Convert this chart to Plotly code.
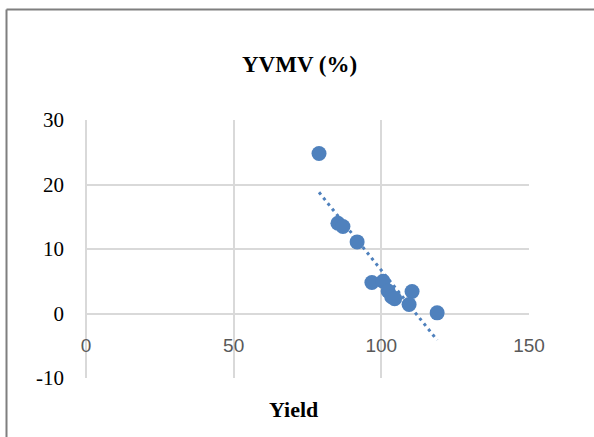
import numpy as np
import plotly.graph_objects as go

# Data
yield_vals = [78.9, 85.3, 87.0, 91.8, 96.8, 100.6, 102.3, 103.5, 104.5, 110.4, 109.4, 118.9]
yvmv_vals = [24.8, 14.0, 13.5, 11.1, 4.8, 5.0, 3.5, 2.6, 2.3, 3.4, 1.4, 0.1]
x_ticks = [0, 50, 100, 150]
y_ticks = [-10, 0, 10, 20, 30]
y_tick_text = ["-10", "0", "10", "20", "30"]
title_text = "YVMV (%)"
x_title = "Yield"

BLUE = "#4F81BD"
GRID = "#D9D9D9"

# linear trendline from data
slope, intercept = np.polyfit(yield_vals, yvmv_vals, 1)
tx = np.array([min(yield_vals), max(yield_vals)])
ty = slope * tx + intercept

fig = go.Figure()
fig.add_trace(go.Scatter(x=list(tx), y=list(ty), mode="lines",
                         line=dict(color=BLUE, width=3, dash="3px,4px"),
                         showlegend=False, hoverinfo="skip"))
fig.add_trace(go.Scatter(x=yield_vals, y=yvmv_vals, mode="markers",
                         marker=dict(color=BLUE, size=15, line=dict(width=0)),
                         showlegend=False))
# invisible trace for the crossing x-axis
fig.add_trace(go.Scatter(x=[x_ticks[0], x_ticks[-1]], y=[0, 0], xaxis="x2", mode="markers",
                         marker=dict(opacity=0), showlegend=False, hoverinfo="skip"))

L, R, T, B = 86, 65, 120, 59
W, H = 594, 437
pw, ph = W - L - R, H - T - B

fig.update_layout(
    width=W, height=H,
    margin=dict(l=L, r=R, t=T, b=B),
    paper_bgcolor="white", plot_bgcolor="white",
    xaxis=dict(range=[x_ticks[0], x_ticks[-1]], tickvals=x_ticks, showticklabels=False,
               showgrid=True, gridcolor=GRID, gridwidth=1.5, zeroline=True,
               zerolinecolor=GRID, zerolinewidth=1.5, showline=False, fixedrange=True),
    xaxis2=dict(range=[x_ticks[0], x_ticks[-1]], tickvals=x_ticks, overlaying="x",
                anchor="free", position=(0 - y_ticks[0]) / (y_ticks[-1] - y_ticks[0]),
                side="bottom", showgrid=False, zeroline=False, showline=False,
                ticks="", ticklabelstandoff=18,
                tickfont=dict(family="Liberation Sans", size=19, color="#595959")),
    yaxis=dict(range=[y_ticks[0], y_ticks[-1]], tickvals=y_ticks, ticktext=y_tick_text,
               showgrid=True, gridcolor=GRID, gridwidth=1.5, zeroline=True,
               zerolinecolor=GRID, zerolinewidth=1.5, showline=False,
               ticks="", ticklabelstandoff=21,
               tickfont=dict(family="Liberation Serif", size=21, color="black")),
    annotations=[
        dict(text="<b>" + title_text + "</b>", xref="paper", yref="paper",
             x=(299 - L) / pw, y=(H - B - 64) / ph, xanchor="center", yanchor="middle",
             showarrow=False,
             font=dict(family="Liberation Serif", size=23, color="black")),
        dict(text="<b>" + x_title + "</b>", xref="paper", yref="paper",
             x=(293 - L) / pw, y=(H - B - 409) / ph, xanchor="center", yanchor="middle",
             showarrow=False,
             font=dict(family="Liberation Serif", size=22, color="black")),
    ],
    shapes=[
        dict(type="line", xref="paper", yref="paper",
             x0=(6.5 - L) / pw, x1=(6.5 - L) / pw, y0=(H - B - 9.5) / ph, y1=(H - B - H) / ph,
             line=dict(color="#7F7F7F", width=2)),
        dict(type="line", xref="paper", yref="paper",
             x0=(6.5 - L) / pw, x1=(W - L) / pw, y0=(H - B - 9.5) / ph, y1=(H - B - 9.5) / ph,
             line=dict(color="#7F7F7F", width=2)),
    ],
)

fig.write_html("out.html", config={"displayModeBar": False},
               post_script="document.body.style.margin='0';document.body.style.overflow='hidden';")
